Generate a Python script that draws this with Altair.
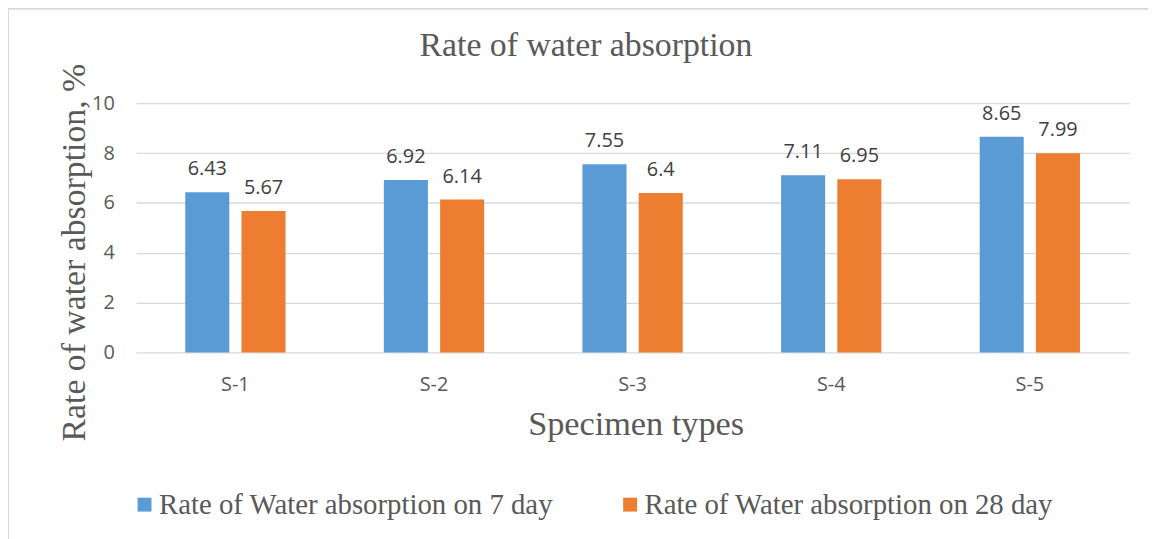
import altair as alt
import pandas as pd

categories = ["S-1", "S-2", "S-3", "S-4", "S-5"]
series_names = ["Rate of Water absorption on 7 day", "Rate of Water absorption on 28 day"]
day7 = [6.43, 6.92, 7.55, 7.11, 8.65]
day28 = [5.67, 6.14, 6.4, 6.95, 7.99]
colors = ["#5B9BD5", "#ED7D31"]

rows = []
for c, a, b in zip(categories, day7, day28):
    rows.append({"cat": c, "series": series_names[0], "value": a})
    rows.append({"cat": c, "series": series_names[1], "value": b})
df = pd.DataFrame(rows)

SERIF = "Liberation Serif"
SANS = "Open Sans"

x = alt.X("cat:N", sort=categories,
          scale=alt.Scale(paddingInner=0.495, paddingOuter=0.2475),
          axis=alt.Axis(title="Specimen types", labelAngle=0, labelFont=SANS, labelFontSize=20,
                        labelColor="#595959", labelPadding=22, ticks=False, domain=False,
                        titleFont=SERIF, titleFontSize=34.5, titleFontWeight="normal",
                        titleColor="#595959", titleX=503, titleY=83, titleBaseline="alphabetic",
                        titleAlign="center"))
xo = alt.XOffset("series:N", sort=series_names,
                 scale=alt.Scale(paddingInner=0.217, paddingOuter=0))

base = alt.Chart(df)

bars = base.mark_bar().encode(
    x=x,
    xOffset=xo,
    y=alt.Y("value:Q", scale=alt.Scale(domain=[0, 10]),
            axis=alt.Axis(title="Rate of water absorption, %", values=[0, 2, 4, 6, 8, 10],
                          labelFont=SANS, labelFontSize=20, labelColor="#595959",
                          labelPadding=22, ticks=False, domain=False,
                          gridColor="#D9D9D9", gridWidth=1.3,
                          titleFont=SERIF, titleFontSize=34, titleFontWeight="normal",
                          titleColor="#595959", titleX=-52, titleY=150,
                          titleBaseline="alphabetic", titleAlign="center")),
    color=alt.Color("series:N", sort=series_names,
                    scale=alt.Scale(domain=series_names, range=colors),
                    legend=alt.Legend(title=None, orient="none", legendX=-6, legendY=389.5,
                                      direction="horizontal", symbolType="square",
                                      symbolSize=196, symbolStrokeWidth=0,
                                      labelFont=SERIF, labelFontSize=29, labelColor="#595959",
                                      labelOffset=0, columnPadding=62, labelLimit=600)),
)

labels = base.mark_text(dy=-17, baseline="alphabetic", font=SANS, fontSize=20, color="#404040").encode(
    x=alt.X("cat:N", sort=categories),
    xOffset=alt.XOffset("series:N", sort=series_names),
    y="value:Q",
    text=alt.Text("value:Q"),
)

border = alt.Chart(pd.DataFrame({"k": [0]})).mark_rect(
    fill=None, stroke="#D9D9D9", strokeWidth=2
).encode(x=alt.value(-129), x2=alt.value(1100), y=alt.value(-95), y2=alt.value(600))

chart = alt.layer(border, bars, labels).properties(
    width=1000, height=251,
    autosize=alt.AutoSizeParams(type="none"),
    padding={"left": 129, "top": 94, "right": 19, "bottom": 186},
    title=alt.TitleParams("Rate of water absorption", font=SERIF, fontSize=34,
                          fontWeight="normal", color="#595959", anchor="middle",
                          baseline="alphabetic", dx=-47, offset=-82),
).configure_view(stroke=None)

chart.save("out.html", embed_options={"renderer": "svg", "actions": False})
